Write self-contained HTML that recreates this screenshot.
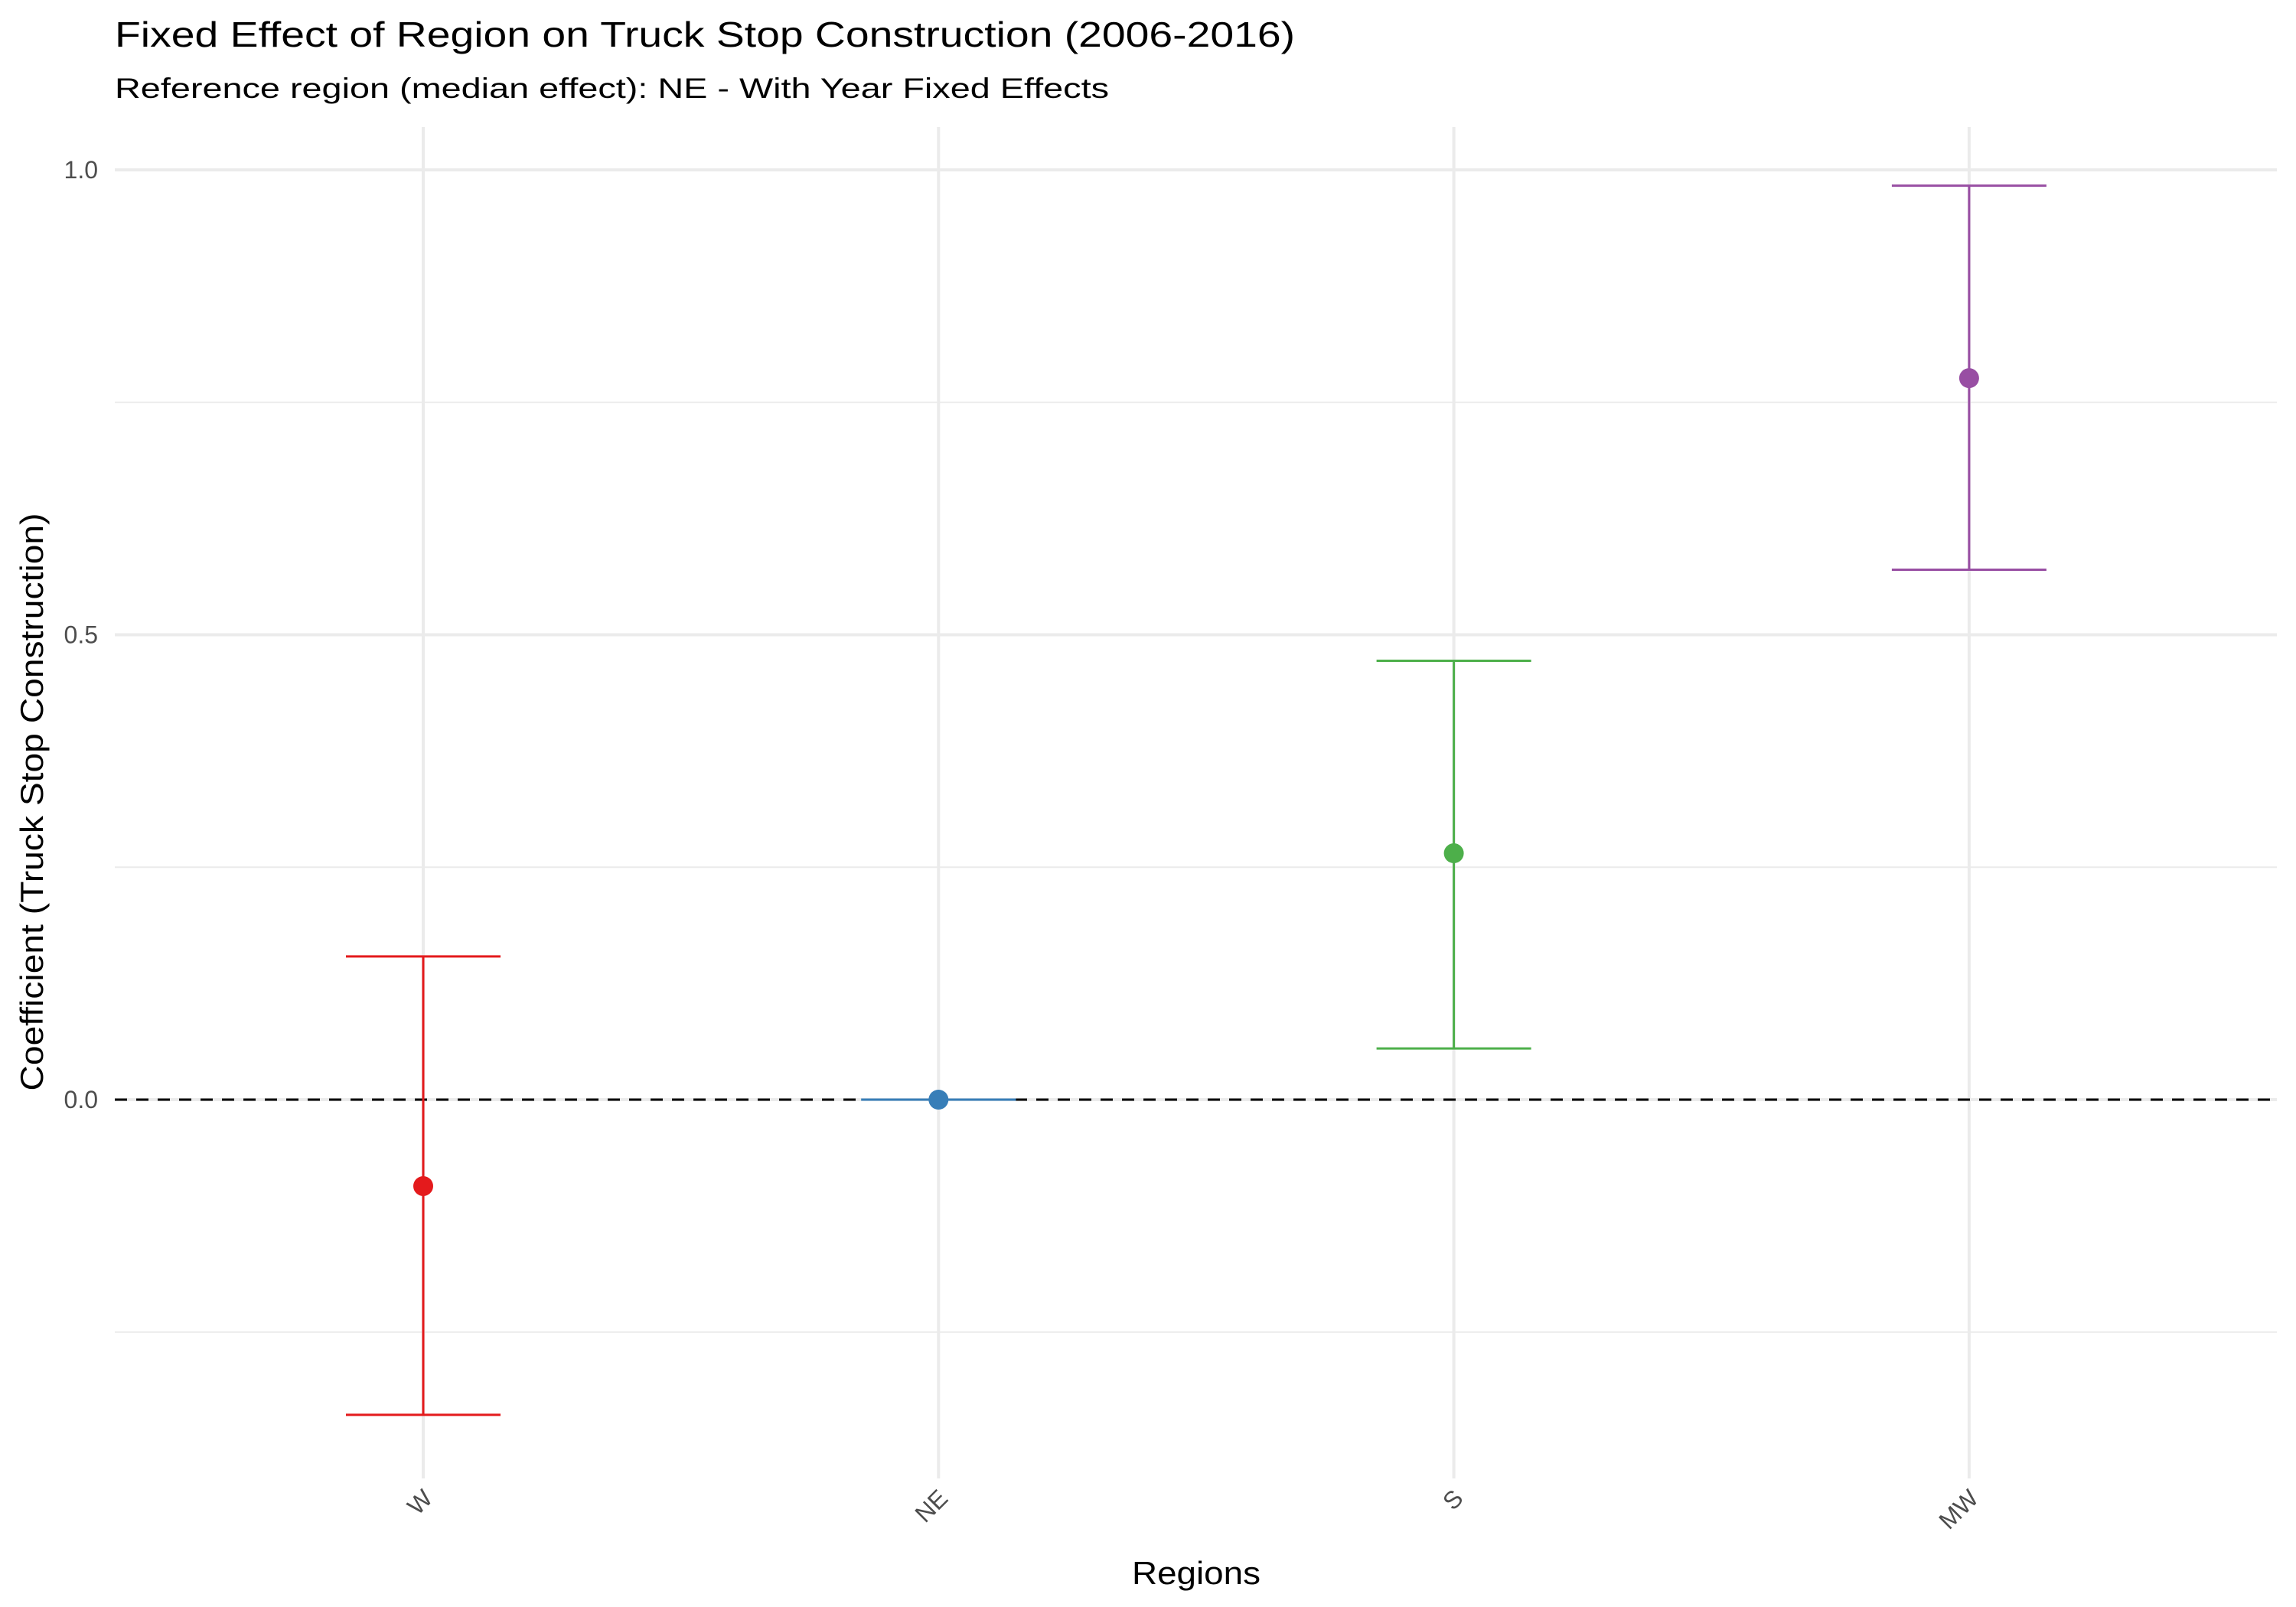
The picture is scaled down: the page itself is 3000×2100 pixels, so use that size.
<!DOCTYPE html>
<html><head><meta charset="utf-8"><style>html,body{margin:0;padding:0;background:#fff}svg{display:block}</style></head>
<body>
<svg id="chart" width="3000" height="2100" xmlns="http://www.w3.org/2000/svg" font-family="Liberation Sans, sans-serif">
<rect width="3000" height="2100" fill="#fff"/>
<text x="150" y="61" font-size="46" textLength="1542" lengthAdjust="spacingAndGlyphs">Fixed Effect of Region on Truck Stop Construction (2006-2016)</text>
<text x="150" y="128" font-size="37" textLength="1299" lengthAdjust="spacingAndGlyphs">Reference region (median effect): NE - With Year Fixed Effects</text>
<g id="grid"></g>
<g id="marks"></g>
<text transform="translate(56,1048) rotate(-90)" text-anchor="middle" font-size="42" textLength="755" lengthAdjust="spacingAndGlyphs">Coefficient (Truck Stop Construction)</text>
<text x="1563" y="2070" text-anchor="middle" font-size="42" textLength="168" lengthAdjust="spacingAndGlyphs">Regions</text>
</svg>
<script>
const categories = ["W","NE","S","MW"];
const estimates = [-0.093, 0, 0.265, 0.776];
const lowers = [-0.339, 0, 0.055, 0.570];
const uppers = [0.154, 0, 0.472, 0.983];
const colors = ["#E41A1C","#377EB8","#4DAF4A","#984EA3"];
const majorTicks = [0, 0.5, 1.0];
const tickLabels = ["0.0","0.5","1.0"];
const minorTicks = [-0.25, 0.25, 0.75];

const NS = "http://www.w3.org/2000/svg";
const panelLeft = 150, panelRight = 2975, panelTop = 166, panelBottom = 1932;
function yScale(v){ return 1437 - v * 1215; }
function xScale(i){ return 553 + i * 673.3; }
function mk(tag, attrs, parent){ const e=document.createElementNS(NS,tag); for(const k in attrs) e.setAttribute(k,attrs[k]); parent.appendChild(e); return e; }
const gridG = document.getElementById('grid');
const marksG = document.getElementById('marks');
const svgEl = document.getElementById('chart');

minorTicks.forEach(v=>{
  const l = mk('line',{x1:panelLeft,x2:panelRight,y1:yScale(v),y2:yScale(v),stroke:'#ebebeb','stroke-width':2},gridG);
  
  
});
majorTicks.forEach((v,i)=>{
  const l = mk('line',{x1:panelLeft,x2:panelRight,y1:yScale(v),y2:yScale(v),stroke:'#ebebeb','stroke-width':4},gridG);
  
  
  const t = mk('text',{x:128,y:yScale(v)+11,'text-anchor':'end','font-size':32,fill:'#4d4d4d'},svgEl);
  t.textContent = tickLabels[i];
  
  
});
categories.forEach((c,i)=>{
  const x = xScale(i);
  const l = mk('line',{x1:x,x2:x,y1:panelTop,y2:panelBottom,stroke:'#ebebeb','stroke-width':4},gridG);
  
  
  const t = mk('text',{x:0,y:0,'text-anchor':'end','font-size':32,fill:'#4d4d4d',transform:`translate(${x+14},${1960}) rotate(-45)`},svgEl);
  t.textContent = c;
  
  
});
const z = mk('line',{x1:panelLeft,x2:panelRight,y1:yScale(0),y2:yScale(0),stroke:'#000','stroke-width':3,'stroke-dasharray':'16,12'},marksG);


categories.forEach((c,i)=>{
  const x = xScale(i), col = colors[i];
  const g = mk('g',{},marksG);
  
  
  mk('line',{x1:x,x2:x,y1:yScale(lowers[i]),y2:yScale(uppers[i]),stroke:col,'stroke-width':3},g);
  mk('line',{x1:x-101,x2:x+101,y1:yScale(lowers[i]),y2:yScale(lowers[i]),stroke:col,'stroke-width':3},g);
  mk('line',{x1:x-101,x2:x+101,y1:yScale(uppers[i]),y2:yScale(uppers[i]),stroke:col,'stroke-width':3},g);
  const p = mk('circle',{cx:x,cy:yScale(estimates[i]),r:13,fill:col},marksG);
  
  
});
</script>
</body></html>
